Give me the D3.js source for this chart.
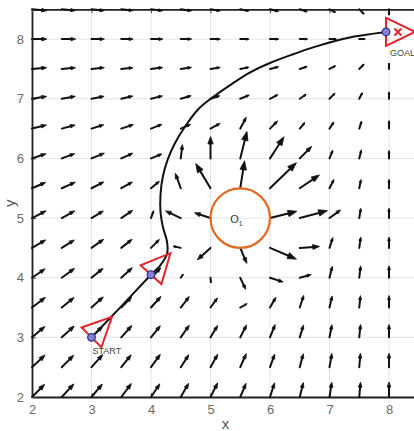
<!DOCTYPE html>
<html>
<head>
<meta charset="utf-8">
<script src="https://cdn.jsdelivr.net/npm/d3@7"></script>
<style>
  html, body { margin: 0; padding: 0; background: #fff; }
  svg { display: block; font-family: "Liberation Sans", Arial, sans-serif; }
</style>
</head>
<body>
<svg id="chart" width="414" height="431"></svg>
<script>
// field grid
var xs = [2, 2.5, 3, 3.5, 4, 4.5, 5, 5.5, 6, 6.5, 7, 7.5, 8];
var ys = [2, 2.5, 3, 3.5, 4, 4.5, 5, 5.5, 6, 6.5, 7, 7.5, 8, 8.5];

// arrow direction in degrees, one row per y (bottom row first)
var angleRows = [
	[45, 47, 50, 53, 56, 60, 63, 67, 72, 76, 81, 85, 90],
	[43, 45, 48, 51, 54, 57, 61, 66, 70, 75, 80, 85, 90],
	[40, 42, 45, 48, 51, 55, 59, 63, 68, 73, 79, 84, 90],
	[37, 39, 42, 45, 48, 52, 54, 29, 60, 72, 77, 84, 90],
	[34, 36, 39, 42, 45, 55, -85, -65, -18, 15, 76, 83, 90],
	[30, 32, 35, 38, 45, 168, 222, -67, -23, 4, 72, 82, 90],
	[27, 29, 31, 34, 70, 155, 162, 0, 14, 15, 36, 81, 90],
	[23, 24, 27, 29, 40, 110, 121, 81, 44, 34, 63, 79, 90],
	[18, 20, 22, 24, 22, 83, 90, 76, 57, 45, 68, 76, 90],
	[14, 15, 17, 18, 21, 23, 28, 62, 45, 50, 56, 72, 90],
	[9, 10, 11, 13, 14, 16, 18, 22, 27, 34, 45, 63, 90],
	[5, 5, 6, 6, 7, 8, 9, 11, 14, 18, 27, 45, 90],
	[0, 0, 0, 0, 0, 0, 0, 0, 0, 0, 0, 0, 0],
	[-5, -5, -6, -6, -7, -8, -9, -11, -14, -18, -27, -45, -90]
];

// arrow magnitude, same layout
var lengthRows = [
	[18, 18, 17, 17, 16, 16, 16, 15, 15, 15, 15, 15, 15],
	[18, 17, 17, 16, 16, 15, 15, 15, 14, 14, 14, 14, 14],
	[17, 17, 16, 16, 15, 15, 14, 14, 14, 13, 13, 13, 13],
	[17, 16, 16, 15, 15, 14, 12, 8, 12, 13, 12, 12, 12],
	[16, 16, 15, 15, 14, 4, 5, 13, 14, 12, 12, 12, 12],
	[16, 15, 15, 14, 12, 8, 18, 17, 29, 20, 11, 11, 11],
	[16, 15, 14, 14, 8, 17, 17, 0, 28, 29, 14, 10, 10],
	[15, 15, 14, 13, 11, 16, 29, 28, 37, 24, 10, 9, 9],
	[15, 14, 14, 13, 12, 14, 22, 28, 26, 17, 9, 9, 8],
	[15, 14, 13, 13, 12, 11, 11, 13, 11, 8, 8, 8, 8],
	[15, 14, 13, 12, 12, 11, 10, 10, 9, 8, 8, 7, 7],
	[15, 14, 13, 12, 12, 11, 10, 9, 9, 8, 7, 7, 6],
	[15, 14, 13, 12, 12, 11, 10, 9, 9, 8, 7, 6, 0],
	[15, 14, 13, 12, 12, 11, 10, 9, 9, 8, 7, 7, 6]
];

// robot path
var pathX = [3, 3.5, 4, 4.15, 4.27, 4.27, 4.2, 4.16, 4.16, 4.2, 4.28, 4.4, 4.57, 4.79, 5.03, 5.33, 5.66, 6.0, 6.4, 6.75, 7.3, 7.95];
var pathY = [3, 3.52, 4.05, 4.2, 4.4, 4.6, 4.85, 5.1, 5.4, 5.7, 5.98, 6.25, 6.53, 6.82, 7.02, 7.23, 7.44, 7.6, 7.75, 7.87, 8.02, 8.12];

// robot poses
var robotX = [3, 4, 7.95];
var robotY = [3, 4.05, 8.12];
var robotHeading = [45, 48, 0];

// obstacle
var obstacleX = [5.5];
var obstacleY = [5];
var obstacleR = [0.5];

var goalX = [8.15];
var goalY = [8.12];

var xTicks = [2, 3, 4, 5, 6, 7, 8];
var yTicks = [2, 3, 4, 5, 6, 7, 8];

var svg = d3.select("#chart"),
	margin = {top: 9.3, left: 32, bottom: 34},
	height = +svg.attr("height") - margin.top - margin.bottom;

var x = d3.scaleLinear().domain([2, 8.5]).range([margin.left, margin.left + 6.5 * 59.5]);
var y = d3.scaleLinear().domain([2, 8.5]).range([margin.top + height, margin.top]);
var magScale = d3.scaleLinear().domain([0, 60]).range([0, 1]);

// grid lines
svg.append("g").selectAll("line")
	.data(xTicks)
	.enter().append("line")
	.attr("x1", d => x(d)).attr("x2", d => x(d))
	.attr("y1", y(2)).attr("y2", y(8.5))
	.attr("stroke", "#e4e4e4").attr("stroke-width", 1);
svg.append("g").selectAll("line")
	.data(yTicks)
	.enter().append("line")
	.attr("y1", d => y(d)).attr("y2", d => y(d))
	.attr("x1", x(2)).attr("x2", x(8.5))
	.attr("stroke", "#e4e4e4").attr("stroke-width", 1);

// axes with inward ticks
var xAxis = svg.append("g")
	.attr("transform", `translate(0,${y(2)})`)
	.call(d3.axisBottom(x).tickValues(xTicks).tickFormat(d3.format("d")).tickSize(-4).tickSizeOuter(0).tickPadding(8));
var yAxis = svg.append("g")
	.attr("transform", `translate(${x(2)},0)`)
	.call(d3.axisLeft(y).tickValues(yTicks).tickFormat(d3.format("d")).tickSize(-4).tickSizeOuter(0).tickPadding(8));
var topAxis = svg.append("g")
	.attr("transform", `translate(0,${y(8.5)})`)
	.call(d3.axisTop(x).tickValues(xTicks).tickSize(-4).tickSizeOuter(0).tickFormat(""));

[xAxis, yAxis, topAxis].forEach(function(g) {
	g.select(".domain").attr("stroke", "#222").attr("stroke-width", 1.8);
	g.selectAll(".tick line").attr("stroke", "#444");
	g.selectAll("text")
		.attr("fill", "#6a6a6a")
		.style("font-family", "'Liberation Sans', Arial, sans-serif")
		.style("font-size", "13px");
});

svg.append("text")
	.attr("x", (x(2) + x(8.5)) / 2)
	.attr("y", 429)
	.attr("text-anchor", "middle")
	.attr("fill", "#555")
	.style("font-size", "15px")
	.text("x");

svg.append("text")
	.attr("transform", `translate(15,${(y(2) + y(8.5)) / 2}) rotate(-90)`)
	.attr("text-anchor", "middle")
	.attr("fill", "#555")
	.style("font-size", "15px")
	.text("y");

// vector field
var arrows = [];
ys.forEach(function(yv, i) {
	xs.forEach(function(xv, j) {
		var len = lengthRows[i][j];
		if (!len) return;
		var a = angleRows[i][j] * Math.PI / 180;
		arrows.push({x0: xv, y0: yv,
			x1: xv + magScale(len) * Math.cos(a),
			y1: yv + magScale(len) * Math.sin(a)});
	});
});

var field = svg.append("g").attr("class", "field");
arrows.forEach(function(d) {
	var px0 = x(d.x0), py0 = y(d.y0), px1 = x(d.x1), py1 = y(d.y1);
	var dx = px1 - px0, dy = py1 - py0, L = Math.sqrt(dx * dx + dy * dy);
	var ux = dx / L, uy = dy / L;
	var h = Math.min(0.34 * L, 9), w = 0.36 * h;
	var bx = px1 - ux * h, by = py1 - uy * h;
	field.append("line")
		.attr("x1", px0).attr("y1", py0)
		.attr("x2", bx + ux * 1).attr("y2", by + uy * 1)
		.attr("stroke", "#111").attr("stroke-width", 2)
		.attr("stroke-linecap", "round");
	field.append("path")
		.attr("d", `M${px1},${py1}L${bx - uy * w},${by + ux * w}L${bx + uy * w},${by - ux * w}Z`)
		.attr("fill", "#111").attr("stroke", "#111").attr("stroke-width", 0.8)
		.attr("stroke-linejoin", "round");
});

// path
var pathData = pathX.map((v, i) => [v, pathY[i]]);
svg.append("path")
	.datum(pathData)
	.attr("fill", "none")
	.attr("stroke", "#111")
	.attr("stroke-width", 2)
	.attr("d", d3.line().x(d => x(d[0])).y(d => y(d[1])).curve(d3.curveCatmullRom.alpha(0.5)));

// obstacle
svg.selectAll(".obstacle")
	.data(obstacleX)
	.enter().append("circle")
	.attr("class", "obstacle")
	.attr("cx", d => x(d))
	.attr("cy", (d, i) => y(obstacleY[i]))
	.attr("r", (d, i) => x(d + obstacleR[i]) - x(d))
	.attr("fill", "none")
	.attr("stroke", "#e0691f")
	.attr("stroke-width", 2.2);

var olabel = svg.append("text")
	.attr("x", x(obstacleX[0]) - 10)
	.attr("y", y(obstacleY[0]) + 5)
	.attr("fill", "#333")
	.style("font-size", "11px")
	.text("O");
olabel.append("tspan")
	.attr("dy", 3)
	.style("font-size", "7px")
	.text("1");

// robots
var apex = 29, half = 14;
robotX.forEach(function(rx, i) {
	var cx = x(rx), cy = y(robotY[i]);
	var a = robotHeading[i] * Math.PI / 180;
	var ux = Math.cos(a), uy = -Math.sin(a);
	var pts = [[cx + ux * apex, cy + uy * apex], [cx - uy * half, cy + ux * half], [cx + uy * half, cy - ux * half]];
	svg.append("path")
		.attr("d", "M" + pts.map(p => p.join(",")).join("L") + "Z")
		.attr("fill", "none")
		.attr("stroke", "#e3242b")
		.attr("stroke-width", 2)
		.attr("stroke-linejoin", "miter");
});

svg.selectAll(".robot-dot")
	.data(robotX)
	.enter().append("circle")
	.attr("class", "robot-dot")
	.attr("cx", d => x(d))
	.attr("cy", (d, i) => y(robotY[i]))
	.attr("r", 3.8)
	.attr("fill", "#8a7fd4")
	.attr("stroke", "#2c3590")
	.attr("stroke-width", 1.3);

// goal cross
var gx = x(goalX[0]), gy = y(goalY[0]);
svg.append("path")
	.attr("d", `M${gx - 3.5},${gy - 3.5}L${gx + 3.5},${gy + 3.5}M${gx - 3.5},${gy + 3.5}L${gx + 3.5},${gy - 3.5}`)
	.attr("stroke", "#e3242b")
	.attr("stroke-width", 2);

svg.append("text")
	.attr("x", x(robotX[0]) + 1)
	.attr("y", y(robotY[0]) + 17)
	.attr("fill", "#444")
	.style("font-size", "9px")
	.text("START");

svg.append("text")
	.attr("x", x(robotX[2]) + 4)
	.attr("y", y(robotY[2]) + 24)
	.attr("fill", "#444")
	.style("font-size", "9px")
	.text("GOAL");
</script>
</body>
</html>
